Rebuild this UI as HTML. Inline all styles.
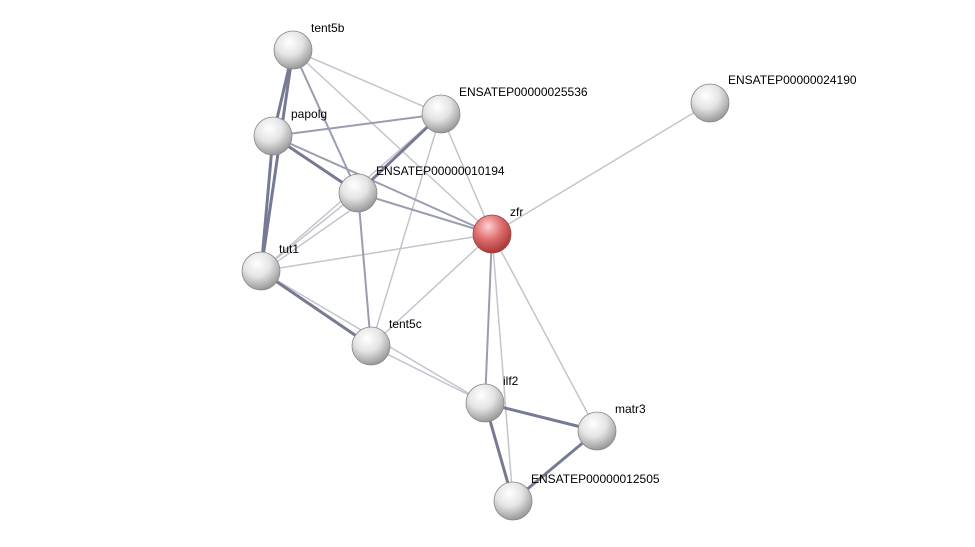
<!DOCTYPE html>
<html><head><meta charset="utf-8"><style>
html,body{margin:0;padding:0;background:#fff;}
svg{display:block;}
text{font-family:"Liberation Sans",sans-serif;font-size:12px;fill:#000;}
</style></head><body>
<svg width="975" height="547" viewBox="0 0 975 547" xmlns="http://www.w3.org/2000/svg">
<defs>
<radialGradient id="g" cx="40%" cy="30%" r="70%">
<stop offset="0" stop-color="#ffffff"/><stop offset="0.5" stop-color="#e4e4e4"/><stop offset="1" stop-color="#9a9a9a"/>
</radialGradient>
<radialGradient id="r" cx="40%" cy="30%" r="70%">
<stop offset="0" stop-color="#ffd0d0"/><stop offset="0.5" stop-color="#e07070"/><stop offset="1" stop-color="#a83838"/>
</radialGradient>
</defs>
<g stroke-linecap="round">
<g stroke="#c4c4d0" stroke-width="1.5">
<line x1="293" y1="50" x2="441" y2="114"/>
<line x1="293" y1="50" x2="492" y2="234"/>
<line x1="441" y1="114" x2="492" y2="234"/>
<line x1="441" y1="114" x2="371" y2="346"/>
<line x1="358" y1="193" x2="261" y2="271"/>
<line x1="368" y1="198" x2="268" y2="268"/>
<line x1="492" y1="234" x2="261" y2="271"/>
<line x1="492" y1="234" x2="371" y2="346"/>
<line x1="492" y1="234" x2="513" y2="501"/>
<line x1="492" y1="234" x2="597" y2="431"/>
<line x1="492" y1="234" x2="710" y2="103"/>
<line x1="261" y1="271" x2="485" y2="403"/>
<line x1="371" y1="346" x2="485" y2="403"/>
<line x1="441" y1="114" x2="261" y2="271"/>
</g>
<g stroke="#9a9db0" stroke-width="2">
<line x1="293" y1="50" x2="358" y2="193"/>
<line x1="273" y1="136" x2="441" y2="114"/>
<line x1="273" y1="136" x2="492" y2="234"/>
<line x1="358" y1="193" x2="492" y2="234"/>
<line x1="358" y1="193" x2="371" y2="346"/>
<line x1="492" y1="234" x2="485" y2="403"/>
</g>
<g stroke="#767a92" stroke-width="3">
<line x1="293" y1="50" x2="273" y2="136"/>
<line x1="293" y1="50" x2="261" y2="271"/>
<line x1="273" y1="136" x2="358" y2="193"/>
<line x1="273" y1="136" x2="261" y2="271"/>
<line x1="441" y1="114" x2="358" y2="193"/>
<line x1="261" y1="271" x2="371" y2="346"/>
<line x1="485" y1="403" x2="597" y2="431"/>
<line x1="485" y1="403" x2="513" y2="501"/>
<line x1="597" y1="431" x2="513" y2="501"/>
</g>
</g>
<g stroke="#888" stroke-width="0.8">
<circle cx="293" cy="50" r="19" fill="url(#g)"/>
<circle cx="441" cy="114" r="19" fill="url(#g)"/>
<circle cx="710" cy="103" r="19" fill="url(#g)"/>
<circle cx="273" cy="136" r="19" fill="url(#g)"/>
<circle cx="358" cy="193" r="19" fill="url(#g)"/>
<circle cx="492" cy="234" r="19" fill="url(#r)" stroke="#a04040"/>
<circle cx="261" cy="271" r="19" fill="url(#g)"/>
<circle cx="371" cy="346" r="19" fill="url(#g)"/>
<circle cx="485" cy="403" r="19" fill="url(#g)"/>
<circle cx="597" cy="431" r="19" fill="url(#g)"/>
<circle cx="513" cy="501" r="19" fill="url(#g)"/>
</g>
<text x="311" y="32">tent5b</text>
<text x="459" y="96">ENSATEP00000025536</text>
<text x="728" y="84">ENSATEP00000024190</text>
<text x="291" y="118">papolg</text>
<text x="376" y="175">ENSATEP00000010194</text>
<text x="510" y="216">zfr</text>
<text x="279" y="253">tut1</text>
<text x="389" y="328">tent5c</text>
<text x="503" y="385">ilf2</text>
<text x="615" y="413">matr3</text>
<text x="531" y="483">ENSATEP00000012505</text>
</svg>
</body></html>
